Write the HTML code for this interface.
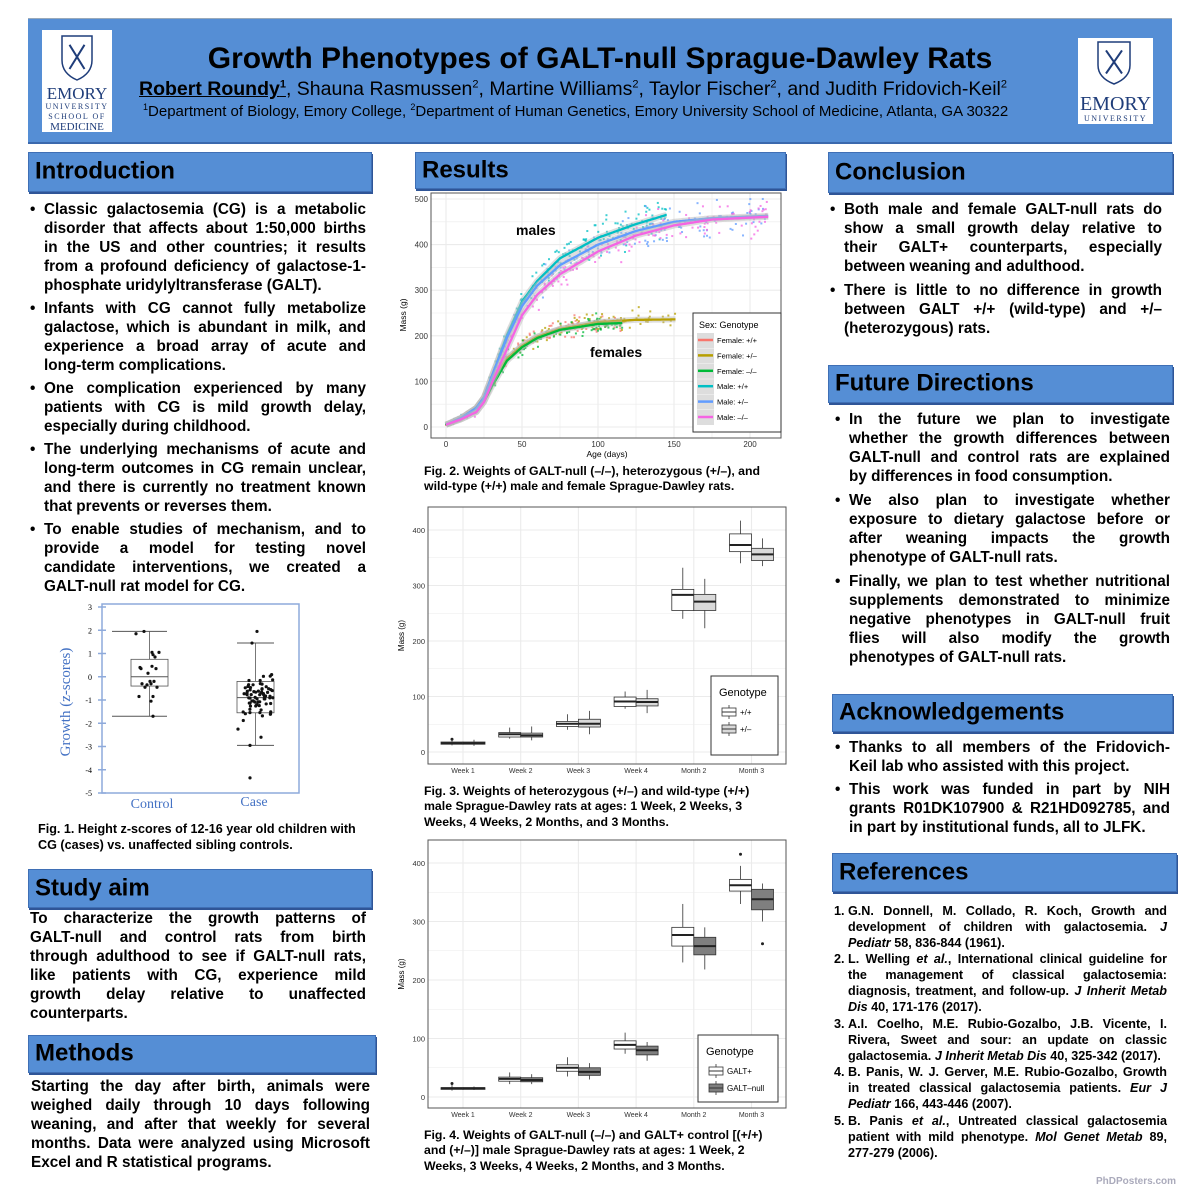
<!DOCTYPE html>
<html><head><meta charset="utf-8">
<style>
html,body{margin:0;padding:0;background:#fff;}
body{width:1200px;height:1194px;position:relative;overflow:hidden;font-family:"Liberation Sans",Arial,sans-serif;}
.hdr{position:absolute;background:#558ed5;border:1px solid #3f6fb5;box-shadow:1px 2px 0 #2f5597;}
.hdr span{position:absolute;left:6px;top:50%;transform:translateY(-52%);font-weight:bold;font-size:24px;color:#000;}
.ln{position:absolute;white-space:nowrap;font-weight:bold;color:#000;transform-origin:0 50%;}
.t{position:absolute;white-space:nowrap;}
svg{position:absolute;left:0;top:0;}
</style></head><body>

<div style="position:absolute;left:28px;top:18px;width:1144px;height:123px;background:#558ed5;border-top:1px solid #9ab;border-bottom:2px solid #3a68ad;"></div>
<div style="position:absolute;left:42px;top:30px;width:70px;height:102px;background:#fff;"></div>
<div style="position:absolute;left:1078px;top:38px;width:75px;height:86px;background:#fff;"></div>
<div class="t" style="left:42px;top:84px;width:70px;text-align:center;font-family:'Liberation Serif',serif;color:#1f3d7a;font-size:17px;">EMORY</div>
<div class="t" style="left:42px;top:102px;width:70px;text-align:center;font-family:'Liberation Serif',serif;color:#1f3d7a;font-size:8px;letter-spacing:1.5px;line-height:10px;">UNIVERSITY<br>SCHOOL OF</div>
<div class="t" style="left:42px;top:121px;width:70px;text-align:center;font-family:'Liberation Serif',serif;color:#1f3d7a;font-size:11px;">MEDICINE</div>
<div class="t" style="left:1078px;top:93px;width:75px;text-align:center;font-family:'Liberation Serif',serif;color:#1f3d7a;font-size:20px;">EMORY</div>
<div class="t" style="left:1078px;top:114px;width:75px;text-align:center;font-family:'Liberation Serif',serif;color:#1f3d7a;font-size:8px;letter-spacing:1.5px;">UNIVERSITY</div>

<div class="t" style="left:0;width:1200px;text-align:center;top:42px;font-size:30px;font-weight:bold;">Growth Phenotypes of GALT-null Sprague-Dawley Rats</div>
<div class="t" style="left:139px;top:78px;font-size:19.5px;"><b style="text-decoration:underline">Robert Roundy<sup style="font-size:11px">1</sup></b>, Shauna Rasmussen<sup style="font-size:11px">2</sup>, Martine Williams<sup style="font-size:11px">2</sup>, Taylor Fischer<sup style="font-size:11px">2</sup>, and Judith Fridovich-Keil<sup style="font-size:11px">2</sup></div>
<div class="t" style="left:143px;top:102px;font-size:15px;"><sup style="font-size:9px">1</sup>Department of Biology, Emory College, <sup style="font-size:9px">2</sup>Department of Human Genetics, Emory University School of Medicine, Atlanta, GA 30322</div>

<div class="hdr" style="left:28px;top:152px;width:342px;height:38px;"><span>Introduction</span></div>
<div class="hdr" style="left:415px;top:152px;width:369px;height:35px;"><span>Results</span></div>
<div class="hdr" style="left:828px;top:152px;width:343px;height:39px;"><span>Conclusion</span></div>
<div class="hdr" style="left:28px;top:869px;width:342px;height:37px;"><span>Study aim</span></div>
<div class="hdr" style="left:28px;top:1035px;width:346px;height:36px;"><span>Methods</span></div>
<div class="hdr" style="left:828px;top:365px;width:343px;height:36px;"><span>Future Directions</span></div>
<div class="hdr" style="left:832px;top:694px;width:339px;height:36px;"><span>Acknowledgements</span></div>
<div class="hdr" style="left:832px;top:853px;width:343px;height:37px;"><span>References</span></div>

<svg id="s" width="1200" height="1194" xmlns="http://www.w3.org/2000/svg" font-family="Liberation Sans, Arial, sans-serif"></svg>
<div id="txt"></div>

<script>
var S=document.getElementById('s'),T=document.getElementById('txt');
function el(n,a,p){var e=document.createElementNS('http://www.w3.org/2000/svg',n);for(var k in a)e.setAttribute(k,a[k]);(p||S).appendChild(e);return e;}
function tx(x,y,s,a){a=a||{};a.x=x;a.y=y;var e=el('text',a);e.textContent=s;return e;}
function shield(x,y,w,h){el('path',{d:'M'+x+' '+y+' h'+w+' v'+(h*0.55)+' q0 '+(h*0.3)+' -'+(w/2)+' '+(h*0.45)+' q-'+(w/2)+' -'+(h*0.15)+' -'+(w/2)+' -'+(h*0.45)+'z',fill:'none',stroke:'#1f3d7a','stroke-width':1.5});
el('path',{d:'M'+(x+w*0.25)+' '+(y+h*0.2)+' L'+(x+w*0.75)+' '+(y+h*0.75)+' M'+(x+w*0.75)+' '+(y+h*0.2)+' L'+(x+w*0.25)+' '+(y+h*0.75),stroke:'#1f3d7a','stroke-width':2});}
shield(62,36,30,44);shield(1098,42,32,42);

var rs=1;function rnd(){rs=(rs*16807)%2147483647;return rs/2147483647;}
function gauss(){return (rnd()+rnd()+rnd()-1.5)/1.5;}

// ---------- Fig 2 ----------
(function(){
var L=431,R=781,Tp=193,B=438;
function X(t){return 446+t*304/200;}function Y(v){return 427-v*228/500;}
el('rect',{x:L,y:Tp,width:R-L,height:B-Tp,fill:'#fff'});
for(var t=-25;t<=225;t+=25){if(X(t)>L&&X(t)<R)el('line',{x1:X(t),x2:X(t),y1:Tp,y2:B,stroke:'#ebebeb','stroke-width':t%50?0.6:1.1});}
for(var v=-50;v<=550;v+=50){if(Y(v)>Tp&&Y(v)<B)el('line',{x1:L,x2:R,y1:Y(v),y2:Y(v),stroke:'#ebebeb','stroke-width':v%100?0.6:1.1});}
var C={fpp:'#F8766D',fpm:'#B79F00',fmm:'#00BA38',mpp:'#00BFC4',mpm:'#619CFF',mmm:'#F564E3'};
var K={
fpp:[[0,5],[10,20],[20,42],[25,65],[30,100],[40,150],[50,178],[60,198],[75,215],[100,229],[116,231]],
fmm:[[0,5],[10,17],[20,33],[25,55],[30,88],[40,145],[50,175],[60,195],[75,213],[100,226],[116,228]],
fpm:[[0,5],[10,20],[20,42],[25,65],[30,100],[40,150],[50,178],[60,198],[75,215],[100,230],[125,235],[151,236]],
mpp:[[0,5],[10,20],[20,42],[25,65],[30,110],[40,200],[50,275],[60,320],[75,370],[100,415],[125,445],[145,465]],
mpm:[[0,5],[10,20],[20,42],[25,65],[30,110],[40,195],[50,265],[60,310],[75,355],[100,400],[125,430],[150,450],[175,458],[212,463]],
mmm:[[0,5],[10,17],[20,33],[25,55],[30,95],[40,170],[50,245],[60,290],[75,335],[100,385],[125,420],[150,442],[175,455],[212,461]]};
function f(k,t){var p=K[k];for(var i=1;i<p.length;i++)if(t<=p[i][0]){var a=p[i-1],b=p[i];return a[1]+(b[1]-a[1])*(t-a[0])/(b[0]-a[0]);}return p[p.length-1][1];}
var order=['fpp','fpm','fmm','mpp','mpm','mmm'];
order.forEach(function(k){var mx=K[k][K[k].length-1][0];var n=k[0]=='m'?150:110;
for(var i=0;i<n;i++){var t=Math.pow(rnd(),0.85)*mx;var v=f(k,t);v+=gauss()*(6+v*0.12);el('rect',{x:X(t)-1,y:Y(v)-1,width:2,height:2,fill:C[k],opacity:0.75});}});
order.forEach(function(k){var p=K[k],mx=p[p.length-1][0],d='';
for(var t=0;t<=mx;t+=1)d+=(t?'L':'M')+X(t).toFixed(1)+' '+Y(f(k,t)).toFixed(1);
el('path',{d:d,fill:'none',stroke:'#bbb','stroke-width':6,opacity:0.5,'stroke-linejoin':'round'});el('path',{d:d,fill:'none',stroke:C[k],'stroke-width':2.3,'stroke-linejoin':'round'});});
el('rect',{x:L,y:Tp,width:R-L,height:B-Tp,fill:'none',stroke:'#555','stroke-width':1});
[0,100,200,300,400,500].forEach(function(v){tx(428,Y(v)+3,v,{'font-size':8,'text-anchor':'end',fill:'#333'});});
[0,50,100,150,200].forEach(function(t){tx(X(t),447,t,{'font-size':8,'text-anchor':'middle',fill:'#333'});});
tx(607,457,'Age (days)',{'font-size':8.5,'text-anchor':'middle'});
tx(0,0,'Mass (g)',{'font-size':8.5,'text-anchor':'middle',transform:'translate(406,315) rotate(-90)'});
tx(516,235,'males',{'font-size':14,'font-weight':'bold'});
tx(590,357,'females',{'font-size':14,'font-weight':'bold'});
el('rect',{x:693,y:313,width:88,height:119,fill:'#fff',stroke:'#333','stroke-width':1});
tx(699,328,'Sex: Genotype',{'font-size':9});
var lab=['Female: +/+','Female: +/\u2013','Female: \u2013/\u2013','Male: +/+','Male: +/\u2013','Male: \u2013/\u2013'];
order.forEach(function(k,i){var y=340+i*15.4;el('rect',{x:697,y:y-7,width:17,height:15,fill:'#ddd'});el('line',{x1:698,x2:713,y1:y,y2:y,stroke:C[k],'stroke-width':2.5});tx(717,y+3,lab[i],{'font-size':7.5});});
})();

// ---------- box charts ----------
function boxchart(Tp,B,y0,ys,data,fill2,legTitle,leg,lg){
var L=428,R=786;function Y(v){return y0-v*ys;}
el('rect',{x:L,y:Tp,width:R-L,height:B-Tp,fill:'#fff'});
for(var v=-50;v<=450;v+=50){if(Y(v)>Tp&&Y(v)<B)el('line',{x1:L,x2:R,y1:Y(v),y2:Y(v),stroke:'#ebebeb','stroke-width':v%100?0.6:1.1});}
var cats=['Week 1','Week 2','Week 3','Week 4','Month 2','Month 3'];
cats.forEach(function(c,i){var cx=463+i*57.7;el('line',{x1:cx,x2:cx,y1:Tp,y2:B,stroke:'#ebebeb','stroke-width':1.1});
tx(cx,B+9,c,{'font-size':7,'text-anchor':'middle',fill:'#333'});
data[i].forEach(function(d,j){var x0=j?cx:cx-22,w=22,xc=x0+11;
el('line',{x1:xc,x2:xc,y1:Y(d[3]),y2:Y(d[4]),stroke:'#333','stroke-width':0.8});
el('rect',{x:x0,y:Y(d[2]),width:w,height:Y(d[0])-Y(d[2]),fill:j?fill2:'#fff',stroke:'#333','stroke-width':0.8});
el('line',{x1:x0,x2:x0+w,y1:Y(d[1]),y2:Y(d[1]),stroke:'#222','stroke-width':2});
(d[5]||[]).forEach(function(o){el('circle',{cx:xc,cy:Y(o),r:1.5,fill:'#222'});});});});
el('rect',{x:L,y:Tp,width:R-L,height:B-Tp,fill:'none',stroke:'#555','stroke-width':1});
[0,100,200,300,400].forEach(function(v){tx(425,Y(v)+3,v,{'font-size':7.5,'text-anchor':'end',fill:'#333'});});
tx(0,0,'Mass (g)',{'font-size':8,'text-anchor':'middle',transform:'translate(404,'+((Tp+B)/2)+') rotate(-90)'});
el('rect',{x:lg[0],y:lg[1],width:lg[2],height:lg[3],fill:'#fff',stroke:'#333','stroke-width':1});
tx(lg[0]+8,lg[1]+20,legTitle,{'font-size':11});
leg.forEach(function(s,i){var y=lg[1]+36+i*17;el('line',{x1:lg[0]+18,x2:lg[0]+18,y1:y-7,y2:y+7,stroke:'#333','stroke-width':0.8});
el('rect',{x:lg[0]+11,y:y-4,width:14,height:8,fill:i?fill2:'#fff',stroke:'#333','stroke-width':0.8});
el('line',{x1:lg[0]+11,x2:lg[0]+25,y1:y,y2:y,stroke:'#333','stroke-width':1});
tx(lg[0]+29,y+3,s,{'font-size':8});});
}
boxchart(507,764,752,222/400,[
[[14,16,18,12,25,[23]],[14,16,18,11,22]],
[[27,32,35,24,44],[27,30,34,21,46]],
[[46,51,55,40,68],[45,51,59,32,74]],
[[82,91,99,78,109],[83,90,96,70,112]],
[[255,283,293,240,332],[255,271,284,223,312]],
[[361,373,393,340,417],[345,356,367,335,385]]],'#d9d9d9','Genotype',['+/+','+/\u2013'],[711,676,67,79]);
boxchart(840,1108,1097,234/400,[
[[13,15,16,11,22,[23]],[13,15,16,12,18]],
[[27,31,34,22,42],[26,29,33,22,39]],
[[44,50,55,35,68],[37,43,50,30,58]],
[[82,89,96,74,110],[72,80,87,62,94]],
[[258,277,290,230,330],[243,258,273,218,290]],
[[352,362,372,330,395,[415]],[320,338,355,300,365,[262]]]],'#7f7f7f','Genotype',['GALT+','GALT\u2013null'],[698,1035,80,67]);

// ---------- Fig 1 ----------
(function(){
var L=102,R=299,Tp=604,B=793;function Y(z){return 607+(3-z)*23.25;}
el('rect',{x:L,y:Tp,width:R-L,height:B-Tp,fill:'#fff',stroke:'#8eaadb','stroke-width':1.5});
for(var z=3;z>=-5;z--){el('line',{x1:L-4,x2:L+4,y1:Y(z),y2:Y(z),stroke:'#8eaadb','stroke-width':1.5});tx(L-10,Y(z)+3,z,{'font-size':8,'text-anchor':'end','font-family':'Liberation Serif, serif'});}
function bx(x0,x1,c0,c1,q1,m,q3,lo,hi,pts){var xc=(x0+x1)/2;
el('line',{x1:xc,x2:xc,y1:Y(hi),y2:Y(lo),stroke:'#555','stroke-width':0.8});
el('line',{x1:c0,x2:c1,y1:Y(hi),y2:Y(hi),stroke:'#555','stroke-width':1});el('line',{x1:c0,x2:c1,y1:Y(lo),y2:Y(lo),stroke:'#555','stroke-width':1});
el('rect',{x:x0,y:Y(q3),width:x1-x0,height:Y(q1)-Y(q3),fill:'#fff',stroke:'#555','stroke-width':0.8});
el('line',{x1:x0,x2:x1,y1:Y(m),y2:Y(m),stroke:'#555','stroke-width':1});
pts.forEach(function(p){el('circle',{cx:p[0],cy:Y(p[1]),r:1.6,fill:'#111'});});}
var c=[[136,1.85],[144,1.95],[152,1.05],[159,1.05],[155,0.85],[153,0.95],[140,0.4],[141,0.35],[152,0.45],[156,0.35],[148,0.15],[147,-0.35],[151,-0.3],[154,-0.2],[157,-0.45],[145,-0.45],[139,-0.85],[153,-0.85],[151,-1.05],[153,-1.7],[142,-0.3],[150,-0.2]];
bx(131,168,112,167,-0.4,0,0.75,-1.7,1.95,c);
var d=[[257,1.95],[252,1.45]];rs=7;
for(var i=0;i<70;i++){var v=-0.9+gauss()*1.2;if(v>0.85)v=0.85-rnd()*0.5;if(v<-2.7)v=-2.7+rnd()*0.5;d.push([243+rnd()*30,v]);}
d.push([250,-4.35],[250,-2.95],[261,-2.6],[238,-2.25]);
bx(237,274,237,274,-1.55,-0.9,-0.2,-2.95,1.45,d);
tx(0,0,'Growth (z-scores)',{'font-size':15,'text-anchor':'middle','font-family':'Liberation Serif, serif',fill:'#4472c4',transform:'translate(70,702) rotate(-90)'});
tx(152,808,'Control',{'font-size':14,'text-anchor':'middle','font-family':'Liberation Serif, serif',fill:'#4472c4'});
tx(254,806,'Case',{'font-size':14,'text-anchor':'middle','font-family':'Liberation Serif, serif',fill:'#4472c4'});
})();

// ---------- text ----------
function blk(x,w,fs,lh,paras,bx,just){
paras.forEach(function(p){var y=p[0],ls=p[1];
if(bx!=null){var b=document.createElement('div');b.className='ln';b.style.left=bx+'px';b.style.top=(y-fs*0.6)+'px';b.style.fontSize=fs+'px';b.innerHTML=p[2]||'\u2022';T.appendChild(b);}
ls.forEach(function(s,i){var d=document.createElement('div');d.className='ln';d.style.left=x+'px';d.style.top=(y+i*lh-fs*0.6)+'px';d.style.fontSize=fs+'px';d.innerHTML=s;T.appendChild(d);
var nw=d.getBoundingClientRect().width;var last=i==ls.length-1;
if(nw>w){d.style.transform='scaleX('+(w/nw)+')';}
else if(just&&!last){var sp=(s.replace(/<[^>]*>/g,'').match(/ /g)||[]).length;if(sp)d.style.wordSpacing=((w-nw)/sp)+'px';}});});}
blk(44,322,15.3,19.1,[
[210,['Classic galactosemia (CG) is a metabolic','disorder that affects about 1:50,000 births','in the US and other countries; it results','from a profound deficiency of galactose-1-','phosphate uridylyltransferase (GALT).']],
[309,['Infants with CG cannot fully metabolize','galactose, which is abundant in milk, and','experience a broad array of acute and','long-term complications.']],
[389,['One complication experienced by many','patients with CG is mild growth delay,','especially during childhood.']],
[450,['The underlying mechanisms of acute and','long-term outcomes in CG remain unclear,','and there is currently no treatment known','that prevents or reverses them.']],
[530,['To enable studies of mechanism, and to','provide a model for testing novel','candidate interventions, we created a','GALT-null rat model for CG.']]],30,true);
blk(30,336,15.3,19.1,[[919,['To characterize the growth patterns of','GALT-null and control rats from birth','through adulthood to see if GALT-null rats,','like patients with CG, experience mild','growth delay relative to unaffected','counterparts.']]],null,true);
blk(31,339,15.3,19.1,[[1087,['Starting the day after birth, animals were','weighed daily through 10 days following','weaning, and after that weekly for several','months. Data were analyzed using Microsoft','Excel and R statistical programs.']]],null,true);
blk(844,318,15.3,19.1,[
[210,['Both male and female GALT-null rats do','show a small growth delay relative to','their GALT+ counterparts, especially','between weaning and adulthood.']],
[291,['There is little to no difference in growth','between GALT +/+ (wild-type) and +/\u2013','(heterozygous) rats.']]],830,true);
blk(849,321,15.3,19.1,[
[420,['In the future we plan to investigate','whether the growth differences between','GALT-null and control rats are explained','by differences in food consumption.']],
[501,['We also plan to investigate whether','exposure to dietary galactose before or','after weaning impacts the growth','phenotype of GALT-null rats.']],
[582,['Finally, we plan to test whether nutritional','supplements demonstrated to minimize','negative phenotypes in GALT-null fruit','flies will also modify the growth','phenotypes of GALT-null rats.']]],835,true);
blk(849,321,15.3,19.1,[
[748,['Thanks to all members of the Fridovich-','Keil lab who assisted with this project.']],
[790,['This work was funded in part by NIH','grants R01DK107900 &amp; R21HD092785, and','in part by institutional funds, all to JLFK.']]],835,true);
blk(848,319,12.6,16,[
[912,['G.N. Donnell, M. Collado, R. Koch, Growth and','development of children with galactosemia. <i>J</i>','<i>Pediatr</i> 58, 836-844 (1961).'],'1.'],
[960,['L. Welling <i>et al.</i>, International clinical guideline for','the management of classical galactosemia:','diagnosis, treatment, and follow-up. <i>J Inherit Metab</i>','<i>Dis</i> 40, 171-176 (2017).'],'2.'],
[1025,['A.I. Coelho, M.E. Rubio-Gozalbo, J.B. Vicente, I.','Rivera, Sweet and sour: an update on classic','galactosemia. <i>J Inherit Metab Dis</i> 40, 325-342 (2017).'],'3.'],
[1073,['B. Panis, W. J. Gerver, M.E. Rubio-Gozalbo, Growth','in treated classical galactosemia patients. <i>Eur J</i>','<i>Pediatr</i> 166, 443-446 (2007).'],'4.'],
[1122,['B. Panis <i>et al.</i>, Untreated classical galactosemia','patient with mild phenotype. <i>Mol Genet Metab</i> 89,','277-279 (2006).'],'5.']],834,true);
blk(38,332,12.6,16,[[830,['Fig. 1. Height z-scores of 12-16 year old children with','CG (cases) vs. unaffected sibling controls.']]],null,false);
blk(424,360,12.3,15.5,[[471,['Fig. 2. Weights of GALT-null (\u2013/\u2013), heterozygous (+/\u2013), and','wild-type (+/+) male and female Sprague-Dawley rats.']]],null,false);
blk(424,336,12.3,15.5,[[791,['Fig. 3. Weights of heterozygous (+/\u2013) and wild-type (+/+)','male Sprague-Dawley rats at ages: 1 Week, 2 Weeks, 3','Weeks, 4 Weeks, 2 Months, and 3 Months.']]],null,false);
blk(424,352,12.3,15.5,[[1135,['Fig. 4. Weights of GALT-null (\u2013/\u2013) and GALT+ control [(+/+)','and (+/\u2013)] male Sprague-Dawley rats at ages: 1 Week, 2','Weeks, 3 Weeks, 4 Weeks, 2 Months, and 3 Months.']]],null,false);
</script>
<div class="t" style="left:1096px;top:1176px;font-size:10px;font-weight:bold;color:#aab;">PhDPosters.com</div>
</body></html>
